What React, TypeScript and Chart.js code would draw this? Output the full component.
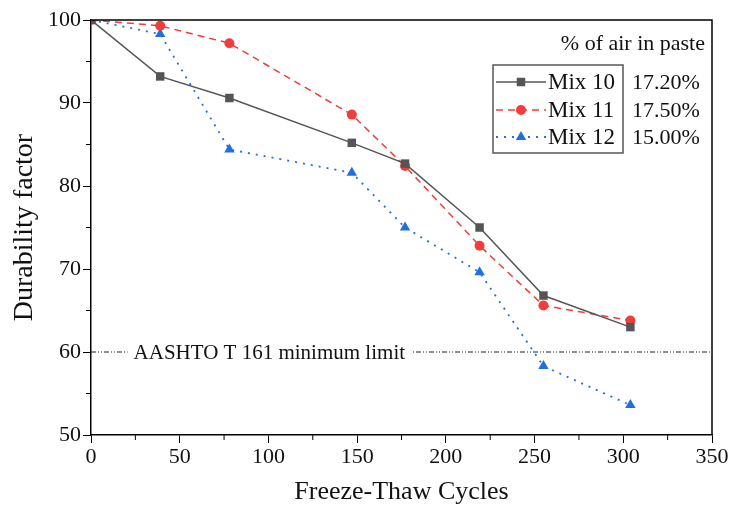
import React, { useEffect, useRef } from "react";
import { Chart, registerables } from "chart.js";

Chart.register(...registerables);

const cycles = [0, 39, 78, 147, 177, 219, 255, 304];
const mix10 = [100, 93.2, 90.6, 85.2, 82.7, 75.0, 66.8, 63.0];
const mix11 = [100, 99.3, 97.2, 88.6, 82.4, 72.8, 65.6, 63.8];
const mix12 = [100, 98.3, 84.4, 81.6, 75.0, 69.6, 58.3, 53.6];
const seriesNames = ["Mix 10", "Mix 11", "Mix 12"];
const airContent = ["17.20%", "17.50%", "15.00%"];
const legendTitle = "% of air in paste";
const limitX = [0, 350];
const limitY = [60, 60];
const limitLabel = "AASHTO T 161 minimum limit";
const xTicks = [0, 50, 100, 150, 200, 250, 300, 350];
const yTicks = [50, 60, 70, 80, 90, 100];
const xMinor = [25, 75, 125, 175, 225, 275, 325];
const yMinor = [55, 65, 75, 85, 95];

const SERIF = "'Liberation Serif', 'Times New Roman', serif";

const frameAndExtras = {
  id: "frameAndExtras",
  afterDatasetsDraw(chart: any) {
    const { ctx, chartArea, scales } = chart;
    const xs = scales.x;
    const ys = scales.y;
    ctx.save();
    // top and right border
    ctx.strokeStyle = "#000";
    ctx.lineWidth = 1.5;
    ctx.beginPath();
    ctx.moveTo(chartArea.left, chartArea.top);
    ctx.lineTo(chartArea.right, chartArea.top);
    ctx.lineTo(chartArea.right, chartArea.bottom);
    ctx.stroke();
    // minor ticks
    ctx.lineWidth = 1;
    ctx.beginPath();
    xMinor.forEach((v) => {
      const px = xs.getPixelForValue(v);
      ctx.moveTo(px, chartArea.bottom);
      ctx.lineTo(px, chartArea.bottom + 5);
    });
    yMinor.forEach((v) => {
      const py = ys.getPixelForValue(v);
      ctx.moveTo(chartArea.left, py);
      ctx.lineTo(chartArea.left - 5, py);
    });
    ctx.stroke();

    // limit label
    ctx.font = `21px ${SERIF}`;
    ctx.textBaseline = "middle";
    ctx.textAlign = "left";
    const tx = xs.getPixelForValue(24);
    const ty = ys.getPixelForValue(limitY[0]);
    const tw = ctx.measureText(limitLabel).width;
    ctx.fillStyle = "#fff";
    ctx.fillRect(tx - 6, ty - 6, tw + 12, 12);
    ctx.fillStyle = "#111";
    ctx.fillText(limitLabel, tx, ty + 1);

    // legend
    const bx = chartArea.right - 219;
    const by = chartArea.top + 45;
    const bw = 130;
    const bh = 88;
    ctx.font = `22px ${SERIF}`;
    ctx.textAlign = "right";
    ctx.fillStyle = "#111";
    ctx.fillText(legendTitle, chartArea.right - 7, chartArea.top + 24);
    ctx.strokeStyle = "#555";
    ctx.lineWidth = 1.5;
    ctx.strokeRect(bx, by, bw, bh);
    const rows = [by + 17, by + 45, by + 72];
    chart.data.datasets.slice(0, 3).forEach((ds: any, i: number) => {
      const y = rows[i];
      ctx.save();
      ctx.strokeStyle = ds.borderColor;
      ctx.lineWidth = ds.borderWidth;
      ctx.setLineDash(ds.borderDash || []);
      ctx.beginPath();
      ctx.moveTo(bx + 3, y);
      ctx.lineTo(bx + 53, y);
      ctx.stroke();
      ctx.restore();
      ctx.save();
      ctx.fillStyle = ds.backgroundColor;
      const cx = bx + 28;
      const r = ds.pointRadius;
      ctx.beginPath();
      if (ds.pointStyle === "rect") {
        const s = r * Math.SQRT1_2;
        ctx.rect(cx - s, y - s, 2 * s, 2 * s);
      } else if (ds.pointStyle === "circle") {
        ctx.arc(cx, y, r, 0, Math.PI * 2);
      } else {
        ctx.moveTo(cx, y - r);
        ctx.lineTo(cx + r * 0.866, y + r * 0.5);
        ctx.lineTo(cx - r * 0.866, y + r * 0.5);
        ctx.closePath();
      }
      ctx.fill();
      ctx.restore();
      ctx.fillStyle = "#111";
      ctx.textAlign = "left";
      ctx.font = `23px ${SERIF}`;
      ctx.fillText(seriesNames[i], bx + 55, y + 1);
      ctx.font = `22px ${SERIF}`;
      ctx.fillText(airContent[i], bx + 139, y + 1);
    });
    ctx.restore();
  },
};

export default function App() {
  const ref = useRef<HTMLCanvasElement>(null);
  useEffect(() => {
    document.body.style.margin = "0";
    const toPts = (ys: number[]) => cycles.map((x, i) => ({ x, y: ys[i] }));
    const chart = new Chart(ref.current!, {
      type: "line",
      data: {
        datasets: [
          {
            label: seriesNames[0],
            data: toPts(mix10),
            borderColor: "#555555",
            backgroundColor: "#555555",
            borderWidth: 1.5,
            pointStyle: "rect",
            pointRadius: 6,
            pointBorderWidth: 0,
          },
          {
            label: seriesNames[1],
            data: toPts(mix11),
            borderColor: "#F23D3D",
            backgroundColor: "#F23D3D",
            borderWidth: 1.5,
            borderDash: [7, 5],
            pointStyle: "circle",
            pointRadius: 5,
            pointBorderWidth: 0,
          },
          {
            label: seriesNames[2],
            data: toPts(mix12),
            borderColor: "#1F6FE0",
            backgroundColor: "#1F6FE0",
            borderWidth: 1.8,
            borderDash: [2, 6],
            pointStyle: "triangle",
            pointRadius: 6,
            pointBorderWidth: 0,
          },
          {
            label: "limit",
            data: limitX.map((x, i) => ({ x, y: limitY[i] })),
            borderColor: "#222",
            borderWidth: 1,
            borderDash: [5, 2, 1, 2, 1, 2],
            pointRadius: 0,
          },
        ],
      },
      options: {
        animation: false,
        responsive: false,
        layout: { padding: { left: 0, right: 20, top: 20, bottom: 0 } },
        plugins: { legend: { display: false }, tooltip: { enabled: false } },
        scales: {
          x: {
            type: "linear",
            min: 0,
            max: 350,
            afterBuildTicks: (s: any) => {
              s.ticks = xTicks.map((v) => ({ value: v }));
            },
            afterFit: (s: any) => {
              s.height = 73;
            },
            ticks: { font: { family: SERIF, size: 22 }, color: "#111", padding: 1 },
            grid: { drawOnChartArea: false, tickLength: 8, color: "#000", tickWidth: 1 },
            border: { color: "#000", width: 1.5 },
            title: {
              display: true,
              text: "Freeze-Thaw Cycles",
              font: { family: SERIF, size: 26 },
              color: "#111",
              padding: { top: 0, bottom: 0 },
            },
          },
          y: {
            min: 50,
            max: 100,
            afterBuildTicks: (s: any) => {
              s.ticks = yTicks.map((v) => ({ value: v }));
            },
            afterFit: (s: any) => {
              s.width = 91;
            },
            ticks: { font: { family: SERIF, size: 22 }, color: "#111", padding: 2 },
            grid: { drawOnChartArea: false, tickLength: 8, color: "#000", tickWidth: 1 },
            border: { color: "#000", width: 1.5 },
            title: {
              display: true,
              text: "Durability factor",
              font: { family: SERIF, size: 28 },
              color: "#111",
              padding: { top: 8, bottom: 0 },
            },
          },
        },
      },
      plugins: [frameAndExtras],
    } as any);
    return () => chart.destroy();
  }, []);
  return (
    <div style={{ width: 732, height: 508 }}>
      <canvas ref={ref} width={732} height={508} />
    </div>
  );
}
